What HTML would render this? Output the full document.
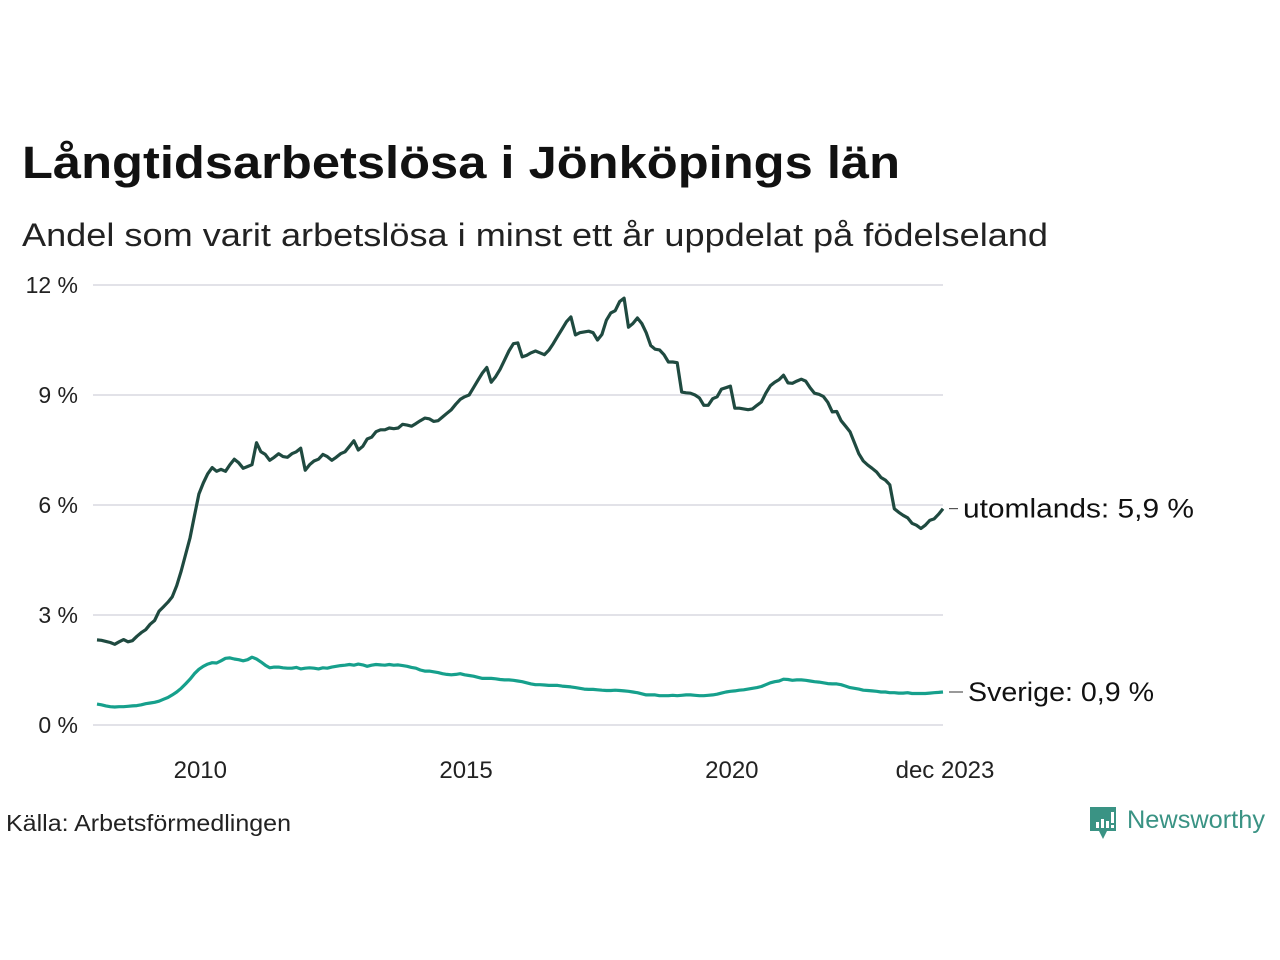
<!DOCTYPE html>
<html><head><meta charset="utf-8"><style>
html,body{margin:0;padding:0;background:#fff;}
svg{display:block;font-family:"Liberation Sans",sans-serif;}
</style></head><body>
<svg id="chart" width="1280" height="960" viewBox="0 0 1280 960">
<text x="22" y="178" font-size="45" font-weight="bold" fill="#111" textLength="878" lengthAdjust="spacingAndGlyphs">Långtidsarbetslösa i Jönköpings län</text>
<text x="22" y="246" font-size="32" fill="#222" textLength="1026" lengthAdjust="spacingAndGlyphs">Andel som varit arbetslösa i minst ett år uppdelat på födelseland</text>
<g id="grid"></g>
<g id="yticks"></g>
<g id="xticks"></g>
<g id="lines"></g>
<g id="labels"></g>
<text x="6" y="831" font-size="23" fill="#222" textLength="285" lengthAdjust="spacingAndGlyphs">Källa: Arbetsförmedlingen</text>
<g>
<path d="M1090 807 h26 v24 h-9 l-4 8 l-4 -8 h-9 z" fill="#3a9384"/>
<rect x="1096" y="822" width="3" height="6" fill="#fff"/><rect x="1101" y="819" width="3" height="9" fill="#fff"/><rect x="1106" y="821" width="3" height="7" fill="#fff"/><rect x="1111" y="812" width="3" height="11" fill="#fff"/><rect x="1111" y="825" width="3" height="3" fill="#fff"/>
<text x="1127" y="828" font-size="25" fill="#3a9384" textLength="138" lengthAdjust="spacingAndGlyphs">Newsworthy</text>
</g>
</svg>
<script>
const yTicks=[0,3,6,9,12];
const yTickLabels=["0 %","3 %","6 %","9 %","12 %"];
const xTickYears=[2010,2015,2020];
const xTickLabels=["2010","2015","2020","dec 2023"];
const startYear=2008;
const foreign=[2.32,2.31,2.28,2.25,2.2,2.27,2.33,2.27,2.3,2.42,2.52,2.6,
2.75,2.85,3.1,3.22,3.35,3.5,3.8,4.2,4.65,5.1,5.7,6.3,
6.6,6.85,7.02,6.92,6.97,6.92,7.1,7.25,7.15,7.0,7.05,7.1,
7.7,7.45,7.38,7.22,7.3,7.4,7.32,7.3,7.4,7.45,7.55,6.95,
7.1,7.2,7.25,7.38,7.32,7.22,7.3,7.4,7.45,7.6,7.75,7.5,
7.6,7.8,7.85,8.0,8.05,8.05,8.1,8.08,8.1,8.2,8.18,8.15,
8.22,8.3,8.37,8.35,8.28,8.3,8.4,8.5,8.6,8.75,8.88,8.95,
9.0,9.2,9.4,9.6,9.75,9.35,9.5,9.7,9.95,10.2,10.4,10.42,
10.04,10.08,10.15,10.2,10.15,10.1,10.22,10.4,10.6,10.8,11.0,11.13,
10.64,10.7,10.72,10.74,10.7,10.5,10.65,11.04,11.24,11.3,11.55,11.64,
10.85,10.95,11.1,10.95,10.7,10.35,10.25,10.23,10.1,9.9,9.9,9.88,
9.08,9.06,9.05,9.0,8.92,8.72,8.72,8.9,8.95,9.16,9.2,9.24,
8.64,8.64,8.62,8.6,8.62,8.72,8.81,9.05,9.25,9.35,9.42,9.54,
9.33,9.32,9.38,9.43,9.38,9.2,9.05,9.02,8.96,8.8,8.54,8.55,
8.3,8.15,8.0,7.7,7.4,7.2,7.09,7.0,6.9,6.75,6.68,6.55,
5.9,5.8,5.72,5.65,5.5,5.45,5.36,5.45,5.58,5.62,5.75,5.9];
const sweden=[0.57,0.55,0.52,0.5,0.49,0.5,0.5,0.51,0.52,0.53,0.55,0.58,
0.6,0.62,0.65,0.7,0.75,0.82,0.9,1.0,1.12,1.25,1.4,1.52,
1.6,1.66,1.7,1.69,1.75,1.82,1.83,1.8,1.78,1.75,1.78,1.85,
1.8,1.72,1.63,1.56,1.58,1.58,1.56,1.55,1.55,1.57,1.53,1.55,
1.56,1.55,1.53,1.56,1.55,1.58,1.6,1.62,1.63,1.65,1.63,1.66,
1.64,1.6,1.63,1.65,1.64,1.63,1.65,1.63,1.64,1.62,1.6,1.57,
1.55,1.5,1.47,1.47,1.45,1.43,1.4,1.38,1.37,1.38,1.4,1.37,
1.35,1.33,1.3,1.27,1.27,1.27,1.26,1.24,1.23,1.23,1.22,1.2,
1.18,1.15,1.12,1.1,1.1,1.09,1.08,1.08,1.08,1.06,1.05,1.04,
1.02,1.0,0.98,0.97,0.97,0.96,0.95,0.94,0.94,0.95,0.94,0.93,
0.92,0.9,0.88,0.85,0.82,0.82,0.82,0.8,0.8,0.8,0.81,0.8,
0.81,0.82,0.82,0.81,0.8,0.8,0.81,0.82,0.84,0.87,0.9,0.92,
0.93,0.95,0.96,0.98,1.0,1.02,1.05,1.1,1.15,1.18,1.2,1.25,
1.24,1.22,1.23,1.23,1.22,1.2,1.18,1.17,1.15,1.13,1.12,1.12,
1.1,1.06,1.02,1.0,0.98,0.95,0.94,0.93,0.92,0.9,0.9,0.88,
0.88,0.87,0.87,0.88,0.86,0.86,0.86,0.86,0.87,0.88,0.89,0.9];
const seriesNames=["utomlands: 5,9 %","Sverige: 0,9 %"];

const NS="http://www.w3.org/2000/svg";
const x0=97,x1=943,y0=725,yTop=285;
const n=foreign.length;
function xi(i){return x0+(x1-x0)*i/(n-1);}
function xYear(y){return xi((y-startYear)*12);}
function yv(v){return y0-(y0-yTop)*v/12;}
function mk(tag,attrs,parent){const e=document.createElementNS(NS,tag);for(const k in attrs)e.setAttribute(k,attrs[k]);parent.appendChild(e);return e;}
const grid=document.getElementById('grid'),yt=document.getElementById('yticks'),xt=document.getElementById('xticks'),lines=document.getElementById('lines'),labels=document.getElementById('labels');
yTicks.forEach((v,i)=>{
  const l=mk('line',{x1:93,x2:943,y1:yv(v),y2:yv(v),stroke:'#e2e2e8','stroke-width':2},grid);
  
  
  const t=mk('text',{x:78,y:yv(v)+8,'text-anchor':'end','font-size':23,fill:'#222'},yt);
  t.textContent=yTickLabels[i];
  
  
});
xTickYears.forEach((yr,i)=>{
  const t=mk('text',{x:xYear(yr)-3,y:778,'text-anchor':'middle','font-size':24,fill:'#222'},xt);
  t.textContent=xTickLabels[i];
  
  
});
const tl=mk('text',{x:xi(n-1)+2,y:778,'text-anchor':'middle','font-size':24,fill:'#222'},xt);
tl.textContent=xTickLabels[3];


function line(data,color,name){
  const d=data.map((v,i)=>(i?'L':'M')+xi(i).toFixed(1)+' '+yv(v).toFixed(1)).join(' ');
  const p=mk('path',{d:d,fill:'none',stroke:color,'stroke-width':3.2,'stroke-linejoin':'round'},lines);
  
  
}
line(sweden,'#16a08c','sverige-line');
line(foreign,'#1f4a40','utomlands-line');
const lastF=foreign[n-1],lastS=sweden[n-1];
mk('line',{x1:949,x2:958,y1:yv(lastF),y2:yv(lastF),stroke:'#333','stroke-width':1},labels);
mk('line',{x1:949,x2:963,y1:yv(lastS),y2:yv(lastS),stroke:'#333','stroke-width':1},labels);
const l1=mk('text',{x:963,y:yv(lastF)+9,'font-size':27,fill:'#111',textLength:231,lengthAdjust:'spacingAndGlyphs'},labels);
l1.textContent=seriesNames[0];


const l2=mk('text',{x:968,y:yv(lastS)+9,'font-size':27,fill:'#111',textLength:186,lengthAdjust:'spacingAndGlyphs'},labels);
l2.textContent=seriesNames[1];


</script>
</body></html>
